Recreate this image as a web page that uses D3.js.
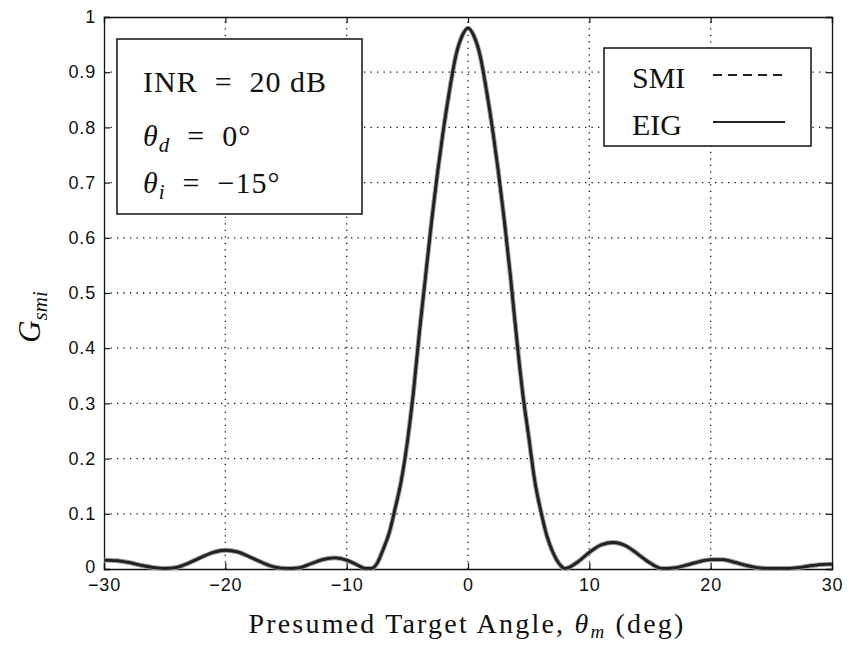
<!DOCTYPE html>
<html>
<head>
<meta charset="utf-8">
<script src="https://cdn.jsdelivr.net/npm/d3@7"></script>
<style>
  body { margin: 0; background: #fff; }
  svg { display: block; }
  .serif { font-family: "Liberation Serif", "DejaVu Serif", serif; fill: #111; }
</style>
</head>
<body>
<svg id="chart"></svg>
<script>
// (deg, gain)
const angles = [-30, -29, -28, -27, -26, -25, -24, -23, -22, -21, -20, -19, -18, -17, -16, -15, -14, -13, -12, -11, -10, -9, -8.5, -8,
  -7.5, -7, -6.5, -6, -5.5, -5, -4.5, -4, -3.5, -3, -2.5, -2, -1.5, -1, -0.5, 0,
  0.5, 1, 1.5, 2, 2.5, 3, 3.5, 4, 4.5, 5, 5.5, 6, 6.5, 7, 7.5, 8,
  9, 10, 11, 12, 13, 14, 15, 16, 17, 18, 19, 20, 21, 22, 23, 24, 25, 26, 27, 28, 29, 30]
const eigGain = [0.016, 0.015, 0.012, 0.007, 0.003, 0.001, 0.003, 0.011, 0.021, 0.030, 0.034, 0.031, 0.022, 0.012, 0.004, 0.001, 0.002, 0.009, 0.017, 0.020, 0.016, 0.006, 0.001, 0.001,
  0.010, 0.035, 0.065, 0.11, 0.16, 0.23, 0.32, 0.43, 0.53, 0.63, 0.72, 0.80, 0.87, 0.93, 0.965, 0.98,
  0.965, 0.93, 0.87, 0.80, 0.72, 0.63, 0.53, 0.42, 0.32, 0.24, 0.16, 0.105, 0.06, 0.03, 0.01, 0.001,
  0.012, 0.030, 0.044, 0.048, 0.042, 0.027, 0.011, 0.001, 0.002, 0.007, 0.013, 0.017, 0.017, 0.012, 0.006, 0.002, 0.001, 0.001, 0.002, 0.005, 0.008, 0.009]
// SMI lies on top of EIG in the picture
const smiGain = eigGain.slice()
const xTicks = [-30, -20, -10, 0, 10, 20, 30]
const yTicks = [0, 0.1, 0.2, 0.3, 0.4, 0.5, 0.6, 0.7, 0.8, 0.9, 1]
const legendNames = ["SMI", "EIG"]

const width = 848, height = 649
const m = {left: 104, right: 16, top: 17, bottom: 80}
const svg = d3.select("#chart").attr("width", width).attr("height", height)

const x = d3.scaleLinear().domain([-30, 30]).range([m.left, width - m.right])
const y = d3.scaleLinear().domain([0, 1]).range([height - m.bottom, m.top])

// dotted grid
const grid = svg.append("g").attr("stroke", "#111").attr("stroke-width", 1.3)
  .attr("stroke-dasharray", "1.3,5.2")
grid.selectAll(".gx").data(xTicks.slice(1, -1)).join("line")
  .attr("x1", d => x(d)).attr("x2", d => x(d))
  .attr("y1", y(0)).attr("y2", y(1))
grid.selectAll(".gy").data(yTicks.slice(1, -1)).join("line")
  .attr("x1", x(-30)).attr("x2", x(30))
  .attr("y1", d => y(d)).attr("y2", d => y(d))

// axes with inward ticks, box on all sides
const fmtY = d => d === 0 ? "0" : d === 1 ? "1" : d3.format(".1f")(d)
const fmtX = d => d < 0 ? "\u2212" + Math.abs(d) : "" + d
const xAx = svg.append("g").attr("transform", `translate(0,${y(0)})`)
  .call(d3.axisBottom(x).tickValues(xTicks).tickSize(-6).tickPadding(9).tickFormat(fmtX))
const yAx = svg.append("g").attr("transform", `translate(${x(-30)},0)`)
  .call(d3.axisLeft(y).tickValues(yTicks).tickSize(-6).tickPadding(8).tickFormat(fmtY))
svg.append("g").attr("transform", `translate(0,${y(1)})`)
  .call(d3.axisTop(x).tickValues(xTicks).tickSize(-6).tickFormat(""))
svg.append("g").attr("transform", `translate(${x(30)},0)`)
  .call(d3.axisRight(y).tickValues(yTicks).tickSize(-6).tickFormat(""))
svg.selectAll(".domain").attr("stroke", "#111").attr("stroke-width", 1.3)
svg.selectAll(".tick line").attr("stroke", "#111").attr("stroke-width", 1.2)
;[xAx, yAx].forEach(a => a.selectAll(".tick text")
  .style("font-size", "18px").style("font-family", "'Liberation Sans', Arial, sans-serif")
  .attr("letter-spacing", 0.8).attr("fill", "#111"))
// keep the "0" clear of the "-30" below it
yAx.selectAll(".tick text").filter(d => d === 0).attr("dy", "0.2em")

// curves
const pts = (g) => angles.map((a, i) => [a, g[i]])
const line = d3.line().x(d => x(d[0])).y(d => y(d[1])).curve(d3.curveMonotoneX)
svg.append("path").datum(pts(eigGain)).attr("d", line)
  .attr("fill", "none").attr("stroke", "#999").attr("stroke-width", 4.8)
svg.append("path").datum(pts(eigGain)).attr("d", line)
  .attr("fill", "none").attr("stroke", "#222").attr("stroke-width", 2.8)
svg.append("path").datum(pts(smiGain)).attr("d", line)
  .attr("fill", "none").attr("stroke", "#222").attr("stroke-width", 2.2)
  .attr("stroke-dasharray", "7,5")

// annotation box
svg.append("rect").attr("x", 117).attr("y", 39).attr("width", 245).attr("height", 175)
  .attr("fill", "#fff").attr("stroke", "#111").attr("stroke-width", 1.5)

function mathText(g, xPos, yPos, parts, size) {
  const t = g.append("text").attr("class", "serif").attr("x", xPos).attr("y", yPos)
    .attr("font-size", size).attr("xml:space", "preserve").attr("letter-spacing", 1)
  parts.forEach(p => {
    const s = t.append("tspan").text(p.t)
    if (p.it) s.attr("font-style", "italic")
    if (p.sub) s.attr("font-size", size * 0.7).attr("dy", 6)
    if (p.after) s.attr("dy", -6)
  })
  return t
}
mathText(svg, 143, 92, [{t: "INR  =  20 dB"}], 30)
mathText(svg, 143, 146, [{t: "\u03b8", it: true}, {t: "d", it: true, sub: true}, {t: "  =  0\u00b0", after: true}], 30)
mathText(svg, 143, 193, [{t: "\u03b8", it: true}, {t: "i", it: true, sub: true}, {t: "  =  \u221215\u00b0", after: true}], 30)

// legend
svg.append("rect").attr("x", 604).attr("y", 48).attr("width", 207).attr("height", 98)
  .attr("fill", "#fff").attr("stroke", "#111").attr("stroke-width", 1.5)
const leg = svg.selectAll(".leg").data(legendNames).join("g")
  .attr("transform", (d, i) => `translate(632,${88 + i * 47})`)
leg.append("text").attr("class", "serif").attr("font-size", 30).text(d => d)
leg.append("line").attr("x1", 81).attr("x2", 153).attr("y1", -13).attr("y2", -13)
  .attr("stroke", "#222").attr("stroke-width", 2.2)
  .attr("stroke-dasharray", (d, i) => i === 0 ? "9,6" : null)

// axis labels
svg.append("text").attr("class", "serif").attr("x", 467).attr("y", 633)
  .attr("text-anchor", "middle").attr("font-size", 28).attr("letter-spacing", 2.2)
  .attr("xml:space", "preserve")
  .call(t => {
    t.append("tspan").text("Presumed Target Angle, ")
    t.append("tspan").attr("font-style", "italic").text("\u03b8")
    t.append("tspan").attr("font-style", "italic").attr("font-size", 19).attr("dy", 5).text("m")
    t.append("tspan").attr("dy", -5).text(" (deg)")
  })
svg.append("text").attr("class", "serif")
  .attr("transform", "translate(40,317) rotate(-90)")
  .attr("text-anchor", "middle").attr("font-size", 31)
  .call(t => {
    t.append("tspan").attr("font-style", "italic").text("G")
    t.append("tspan").attr("font-style", "italic").attr("font-size", 21).attr("dy", 7).text("smi")
  })
</script>
</body>
</html>
